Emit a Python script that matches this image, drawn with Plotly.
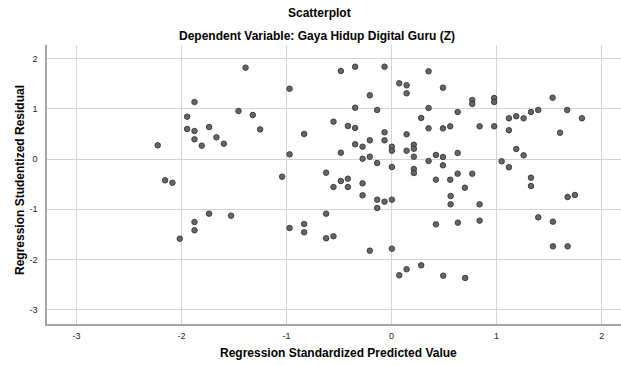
import plotly.graph_objects as go

predicted = [
    -2.226, -2.156, -2.086, -1.946, -1.946, -1.876, -1.876, -1.876, -1.807, -1.737,
    -1.667, -1.597, -1.457, -2.016, -1.876, -1.876, -1.737, -1.528, -1.39, -1.321,
    -1.251, -0.971, -0.971, -1.042, -0.832, -0.623, -0.553, -0.483, -0.483, -0.483,
    -0.553, -0.416, -0.416, -0.416, -0.347, -0.347, -0.347, -0.347, -0.276, -0.276,
    -0.276, -0.207, -0.207, -0.207, -0.137, -0.137, -0.067, -0.067, -0.067, 0.003,
    0.003, 0.003, 0.073, 0.143, 0.143, 0.143, 0.143, 0.212, 0.212, 0.212,
    0.212, 0.212, 0.282, -0.276, -0.137, -0.137, -0.067, 0.003, -0.623, -0.971,
    -0.832, -0.832, -0.623, -0.553, -0.207, 0.003, 0.073, 0.143, 0.282, 0.352,
    0.489, 0.352, 0.352, 0.489, 0.558, 0.629, 0.768, 0.768, 0.838, 0.977,
    0.977, 0.977, 1.117, 1.187, 1.257, 1.327, 1.396, 1.533, 1.672, 1.812,
    1.117, 1.604, 1.187, 1.257, 1.048, 1.117, 1.327, 1.327, 0.352, 0.422,
    0.489, 0.489, 0.629, 0.422, 0.558, 0.629, 0.768, 0.698, 0.562, 0.562,
    0.838, 1.676, 1.745, 0.422, 0.631, 0.838, 1.396, 1.536, 1.536, 1.676,
    0.492, 0.701,
]
residual = [
    0.273, -0.425, -0.472, 0.843, 0.598, 1.135, 0.558, 0.392, 0.266, 0.637,
    0.432, 0.305, 0.956, -1.587, -1.255, -1.42, -1.089, -1.129, 1.82, 0.876,
    0.59, 1.40, 0.093, -0.352, 0.498, -0.272, 0.744, 1.753, 0.126, -0.438,
    -0.558, 0.657, -0.392, -0.558, 1.839, 1.022, 0.618, 0.293, 0.245, 0.006,
    -0.485, 1.268, 0.372, 0.046, 0.976, -0.08, 1.839, 0.532, 0.372, 0.245,
    0.165, -0.159, 1.508, 1.468, 1.308, 0.492, 0.165, 0.285, 0.205, 0.046,
    -0.199, -0.279, 0.817, -0.724, -0.81, -0.976, -0.85, -0.81, -1.089, -1.375,
    -1.295, -1.46, -1.58, -1.54, -1.826, -1.786, -2.317, -2.197, -2.118, 1.747,
    1.42, 1.016, 0.611, 0.611, 0.651, 0.936, 1.175, 1.096, 0.651, 1.215,
    1.135, 0.651, 0.811, 0.851, 0.811, 0.936, 0.976, 1.221, 0.976, 0.811,
    0.572, 0.524, 0.199, 0.073, -0.046, -0.165, -0.372, -0.538, -0.04, 0.08,
    0.04, -0.126, 0.12, -0.412, -0.412, -0.293, -0.293, -0.571, -0.737, -0.903,
    -0.903, -0.757, -0.717, -1.302, -1.268, -1.228, -1.162, -1.248, -1.74, -1.74,
    -2.324, -2.37,
]
x_ticks = [-3, -2, -1, 0, 1, 2]
y_ticks = [-3, -2, -1, 0, 1, 2]

font_family = "Liberation Sans, Arial, sans-serif"

W, H = 621, 365
ML, MR, MT, MB = 47, 0, 45, 41
plot_w = W - ML - MR
plot_h = H - MT - MB


def px_to_paper_x(px):
    return (px - ML) / plot_w


def px_to_paper_y(py):
    return (H - MB - py) / plot_h


fig = go.Figure()
fig.add_trace(go.Scatter(
    x=predicted, y=residual, mode="markers",
    marker=dict(size=5.5, color="#666666", line=dict(color="#333333", width=0.9)),
    showlegend=False, hoverinfo="skip",
))

fig.update_layout(
    width=W, height=H,
    margin=dict(l=ML, r=MR, t=MT, b=MB),
    paper_bgcolor="white", plot_bgcolor="white",
    font=dict(family=font_family, color="#000000"),
    xaxis=dict(
        range=[-3.28, 2.184], tickvals=x_ticks, ticktext=[str(v) for v in x_ticks],
        showgrid=True, gridcolor="#d4d4d4", gridwidth=1, zeroline=False,
        showline=True, linecolor="#a6a6a6", linewidth=1.5,
        ticks="", tickfont=dict(size=9, color="#222222"), ticklabelstandoff=2,
    ),
    yaxis=dict(
        range=[-3.287, 2.271], tickvals=y_ticks, ticktext=[str(v) for v in y_ticks],
        showgrid=True, gridcolor="#d4d4d4", gridwidth=1, zeroline=False,
        showline=True, linecolor="#a6a6a6", linewidth=1.5,
        ticks="", tickfont=dict(size=9, color="#222222"), ticklabelstandoff=6,
    ),
    annotations=[
        dict(text="<b>Scatterplot</b>", x=px_to_paper_x(319), y=px_to_paper_y(13),
             xref="paper", yref="paper", xanchor="center", yanchor="middle",
             showarrow=False, font=dict(size=12)),
        dict(text="<b>Dependent Variable: Gaya Hidup Digital Guru (Z)</b>",
             x=px_to_paper_x(317), y=px_to_paper_y(36),
             xref="paper", yref="paper", xanchor="center", yanchor="middle",
             showarrow=False, font=dict(size=12)),
        dict(text="<b>Regression Standardized Predicted Value</b>",
             x=px_to_paper_x(338), y=px_to_paper_y(353),
             xref="paper", yref="paper", xanchor="center", yanchor="middle",
             showarrow=False, font=dict(size=12)),
        dict(text="<b>Regression Studentized Residual</b>",
             x=px_to_paper_x(20), y=px_to_paper_y(180), textangle=-90,
             xref="paper", yref="paper", xanchor="center", yanchor="middle",
             showarrow=False, font=dict(size=12)),
    ],
)

fig.write_html("out.html")
